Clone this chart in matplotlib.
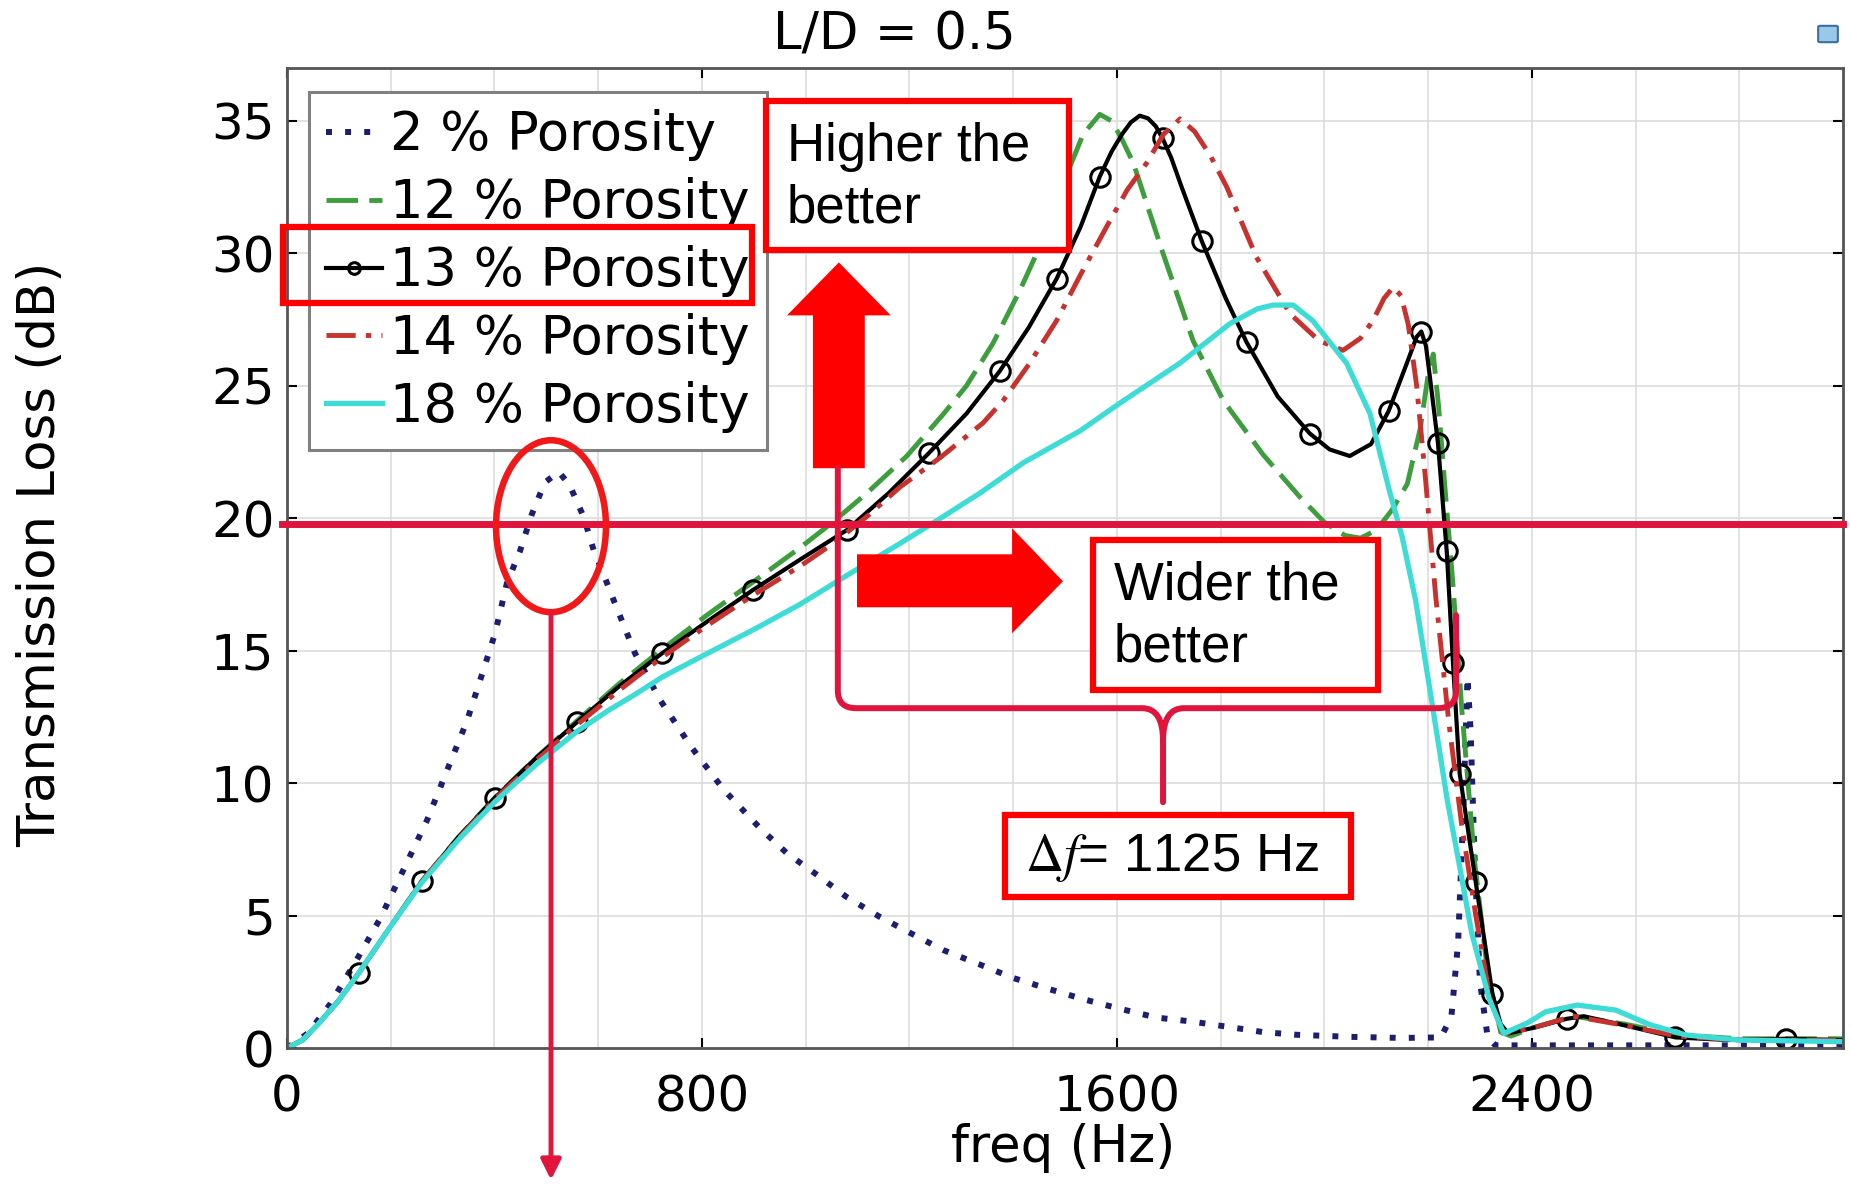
import numpy as np
import matplotlib.pyplot as plt
from matplotlib.patches import Rectangle, Ellipse, Polygon, PathPatch, FancyBboxPatch
from matplotlib.path import Path
from matplotlib.ticker import MultipleLocator

plt.rcParams['font.family'] = 'DejaVu Sans'
plt.rcParams['mathtext.fontset'] = 'stix'

# transmission loss curves (freq in Hz, TL in dB)
labels = ['2 % Porosity', '12 % Porosity', '13 % Porosity', '14 % Porosity', '18 % Porosity']

f_2 = [0, 40, 83, 135, 180, 225, 270, 308, 347, 380, 401, 424, 449, 472, 497, 524, 545, 572, 592, 607,
       633, 671, 719, 780, 842, 912, 964, 1021, 1079, 1143, 1201, 1265, 1336, 1399, 1465, 1534, 1602,
       1676, 1744, 1814, 1882, 1946, 2050, 2150, 2225, 2245, 2258, 2268, 2276, 2282, 2290, 2300, 2315,
       2330, 2400, 2600, 2800, 3000]
tl_2 = [0, 0.55, 1.65, 3.35, 4.9, 6.75, 8.6, 10.45, 12.35, 14.35, 15.65, 17.55, 18.75, 20.15, 21.35,
        21.75, 21.25, 20.05, 18.75, 18.05, 16.75, 14.9, 13.15, 11.35, 9.75, 8.3, 7.35, 6.55, 5.7, 4.95,
        4.35, 3.7, 3.15, 2.65, 2.25, 1.85, 1.5, 1.15, 1.0, 0.8, 0.6, 0.5, 0.42, 0.38, 0.4, 1.2, 4.0, 9.0,
        14.0, 12.0, 7.0, 2.5, 0.4, 0.1, 0.1, 0.1, 0.1, 0.1]

f_12 = [0, 30, 60, 100, 139, 200, 260, 330, 401, 480, 559, 640, 723, 810, 899, 990, 1052, 1118, 1195,
        1264, 1310, 1361, 1413, 1450, 1480, 1510, 1535, 1567, 1590, 1610, 1632, 1689, 1747, 1805, 1882,
        1953, 2000, 2040, 2070, 2100, 2130, 2160, 2185, 2200, 2210, 2220, 2232, 2248, 2265, 2290, 2315,
        2340, 2360, 2400, 2480, 2580, 2680, 2800, 3000]
tl_12 = [0, 0.3, 0.9, 1.8, 2.85, 4.6, 6.3, 7.95, 9.45, 10.95, 12.35, 13.75, 15.05, 16.35, 17.6, 18.9,
         19.85, 20.95, 22.35, 23.9, 25.0, 26.6, 28.6, 30.2, 31.8, 33.3, 34.5, 35.25, 35.0, 34.3, 33.4,
         30.0, 26.7, 24.45, 22.4, 20.8, 19.85, 19.35, 19.25, 19.55, 20.3, 21.3, 23.4, 25.4, 26.2, 24.3,
         21.3, 17.5, 12.8, 7.0, 2.8, 0.6, 0.45, 0.75, 1.2, 0.9, 0.5, 0.35, 0.35]

f_13 = [0, 30, 60, 100, 139, 200, 260, 330, 401, 480, 559, 640, 723, 810, 899, 990, 1079, 1160, 1237,
        1310, 1374, 1430, 1484, 1530, 1567, 1590, 1610, 1627, 1644, 1660, 1675, 1688, 1705, 1725, 1764,
        1810, 1850, 1910, 1972, 2010, 2049, 2090, 2124, 2160, 2178, 2187, 2196, 2205, 2219, 2236, 2248,
        2261, 2292, 2324, 2340, 2355, 2400, 2467, 2500, 2580, 2677, 2780, 2891, 3000]
tl_13 = [0, 0.3, 0.9, 1.8, 2.85, 4.6, 6.3, 7.95, 9.45, 10.95, 12.3, 13.65, 14.9, 16.1, 17.3, 18.45,
         19.55, 20.95, 22.45, 23.95, 25.55, 27.2, 29.05, 31.0, 32.9, 33.85, 34.5, 34.95, 35.2, 35.1,
         34.8, 34.35, 33.6, 32.5, 30.45, 28.3, 26.65, 24.6, 23.2, 22.6, 22.35, 22.8, 24.05, 25.9, 26.85,
         27.05, 26.5, 25.1, 22.85, 18.75, 14.55, 10.35, 6.25, 2.05, 0.9, 0.55, 0.75, 1.1, 1.2, 0.85,
         0.4, 0.3, 0.35, 0.3]
f13_markers = [139, 260, 401, 559, 723, 899, 1079, 1237, 1374, 1484, 1567, 1688, 1764, 1850, 1972,
               2124, 2187, 2219, 2236, 2248, 2261, 2292, 2324, 2467, 2677, 2891]

f_14 = [0, 30, 60, 100, 139, 200, 260, 330, 401, 480, 559, 640, 723, 810, 899, 990, 1053, 1120, 1182,
        1260, 1342, 1381, 1430, 1484, 1530, 1580, 1620, 1657, 1690, 1722, 1750, 1780, 1812, 1869, 1934,
        1990, 2036, 2070, 2094, 2115, 2133, 2148, 2162, 2178, 2195, 2215, 2240, 2265, 2292, 2320, 2345,
        2400, 2480, 2580, 2680, 2800, 3000]
tl_14 = [0, 0.3, 0.9, 1.8, 2.85, 4.6, 6.3, 7.9, 9.4, 10.85, 12.2, 13.5, 14.75, 15.95, 17.1, 18.2, 19.05,
         20.1, 21.18, 22.3, 23.6, 24.45, 25.8, 27.47, 29.2, 31.0, 32.4, 33.4, 34.5, 35.08, 34.6, 33.7,
         32.5, 29.86, 27.72, 26.7, 26.34, 26.8, 27.47, 28.3, 28.73, 28.4, 27.3, 25.0, 21.5, 17.0, 12.3,
         8.4, 5.0, 1.8, 0.55, 0.75, 1.2, 0.85, 0.45, 0.3, 0.3]

f_18 = [0, 30, 60, 100, 139, 200, 260, 330, 401, 480, 559, 620, 667, 723, 796, 900, 989, 1080, 1182,
        1260, 1336, 1420, 1529, 1606, 1721, 1818, 1870, 1901, 1940, 1978, 2043, 2088, 2126, 2150, 2176,
        2207, 2237, 2261, 2284, 2318, 2346, 2392, 2427, 2488, 2562, 2629, 2698, 2799, 3000]
tl_18 = [0, 0.3, 0.9, 1.8, 2.85, 4.6, 6.25, 7.85, 9.3, 10.7, 11.95, 12.75, 13.3, 14.0, 14.75, 15.8,
         16.75, 17.85, 19.05, 20.0, 20.95, 22.1, 23.3, 24.35, 25.85, 27.35, 27.9, 28.05, 28.05, 27.45,
         25.85, 23.95, 21.0, 19.3, 16.9, 13.1, 9.36, 6.84, 4.35, 1.85, 0.55, 0.95, 1.37, 1.62, 1.43,
         0.87, 0.49, 0.3, 0.24]

threshold = 19.8   # dB, red target line
band_lo, band_hi = 1062, 2254   # Hz, ends of the bracket
df_label = r'$\Delta f$= 1125 Hz'

red = '#ff0000'
crimson = '#e0143c'

fig = plt.figure(figsize=(18.51, 11.84), dpi=100)
ax = fig.add_axes([287 / 1851, 1 - 1048 / 1184, 1556 / 1851, 980 / 1184])

ax.plot(f_2, tl_2, color='#1e1e70', lw=4.3, dashes=(1, 2.2), label=labels[0])
ax.plot(f_12, tl_12, color='#3e9e3e', lw=3.5, dashes=(6.5, 2.3), label=labels[1])
mk = [i for i, f in enumerate(f_13) if f in f13_markers]
ax.plot(f_13, tl_13, color='k', lw=3, marker='o', ms=14, mfc='none', mec='k', mew=2.2,
        markevery=mk, label=labels[2])
ax.plot(f_14, tl_14, color='#c8322e', lw=3.5, dashes=(6, 2.1, 1.1, 2.1), label=labels[3])
ax.plot(f_18, tl_18, color='#3edcd6', lw=3.8, label=labels[4])

ax.set_xlim(0, 3000)
ax.set_ylim(0, 37)
ax.set_xticks([0, 800, 1600, 2400])
ax.set_yticks(np.arange(0, 36, 5))
ax.xaxis.set_minor_locator(MultipleLocator(200))
ax.tick_params(which='major', direction='in', length=7, width=1.5, top=True, right=True,
               labelsize=36)
ax.tick_params(which='minor', length=0)
ax.tick_params(axis='x', pad=18)
ax.tick_params(axis='y', pad=9)
ax.grid(which='both', color='#dddddd', lw=1.2)
ax.set_axisbelow(True)
for s in ax.spines.values():
    s.set_color('#555555')
    s.set_linewidth(2)

leg = ax.legend(loc='upper left', bbox_to_anchor=(0.0141, 0.9755), borderaxespad=0,
                fontsize=38, borderpad=0.33, labelspacing=0.3, handlelength=1.05,
                handletextpad=0.15, fancybox=False, framealpha=1, markerscale=0.6)
leg.get_frame().set_edgecolor('#808080')
leg.get_frame().set_linewidth(2.2)

fig.text(894 / 1851, 1 - 35 / 1184, 'L/D = 0.5', ha='center', va='center', fontsize=37)
fig.text(41 / 1851, 1 - 554 / 1184, 'Transmission Loss (dB)', rotation=90, ha='center',
         va='center', fontsize=37)
fig.text(1063 / 1851, 1 - 1148 / 1184, 'freq (Hz)', ha='center', va='center', fontsize=37)
fig.add_artist(FancyBboxPatch((1820 / 1851, 1 - 41 / 1184), 16 / 1851, 14 / 1184,
                              boxstyle='round,pad=0.001', transform=fig.transFigure,
                              fc='#9cc8e8', ec='#3a6ea5', lw=1.5))

# ---- annotations overlaid on the plot ----
ax.axhline(threshold, xmin=-0.003, xmax=1, color=crimson, lw=5, clip_on=False, zorder=6)

ax.add_patch(Rectangle((-8, 28.11), 905, 2.87, fill=False, ec=red, lw=4.5, clip_on=False, zorder=8))

ann = dict(family='Liberation Sans', fontsize=38, color='k', zorder=9)
ax.add_patch(Rectangle((923, 30.11), 584, 5.63, fc='white', ec=red, lw=4.5, clip_on=False, zorder=8))
ax.text(964, 32.85, 'Higher the\nbetter', ha='left', va='center', linespacing=1.3, **ann)

ax.add_patch(Rectangle((1554, 13.51), 549, 5.66, fc='white', ec=red, lw=4.5, clip_on=False, zorder=8))
ax.text(1594, 16.3, 'Wider the\nbetter', ha='left', va='center', linespacing=1.3, **ann)

ax.add_patch(Rectangle((1384, 5.70), 667, 3.09, fc='white', ec=red, lw=4.5, clip_on=False, zorder=8))
ax.text(1423, 7.2, df_label, ha='left', va='center', **ann)

# block arrows
ax.add_patch(Polygon([(1014, 21.89), (1114, 21.89), (1114, 27.66), (1164, 27.66), (1064, 29.66),
                      (964, 27.66), (1014, 27.66)], closed=True, fc=red, ec='none', zorder=7))
ax.add_patch(Polygon([(1099, 18.64), (1398, 18.64), (1398, 19.62), (1496, 17.62), (1398, 15.66),
                      (1398, 16.64), (1099, 16.64)], closed=True, fc=red, ec='none', zorder=7))

# bracket for the bandwidth
mid = (band_lo + band_hi) / 2 + 31
M, L, C = Path.MOVETO, Path.LINETO, Path.CURVE3
verts = [(band_lo, 21.89), (band_lo, 13.5), (band_lo, 12.83), (band_lo + 35, 12.83),
         (mid - 40, 12.83), (mid, 12.83), (mid, 11.6), (mid, 9.28),
         (mid, 11.6), (mid, 12.83), (mid + 40, 12.83),
         (band_hi - 35, 12.83), (band_hi, 12.83), (band_hi, 13.5), (band_hi, 16.34)]
codes = [M, L, C, C, L, C, C, L, M, C, C, L, C, C, L]
ax.add_patch(PathPatch(Path(verts, codes), fill=False, ec=crimson, lw=4.3, capstyle='round',
                       joinstyle='round', clip_on=False, zorder=7))

# circle on the 2 % peak and arrow down
ax.add_patch(Ellipse((509, 19.70), 212, 6.49, fill=False, ec='#f01818', lw=4.7, zorder=7))
ax.annotate('', xy=(509, -4.98), xytext=(509, 16.45), annotation_clip=False,
            arrowprops=dict(arrowstyle='-|>', color=crimson, lw=3.5, mutation_scale=30,
                            shrinkA=0, shrinkB=0), zorder=7)

fig.savefig('out.png', dpi=100)
